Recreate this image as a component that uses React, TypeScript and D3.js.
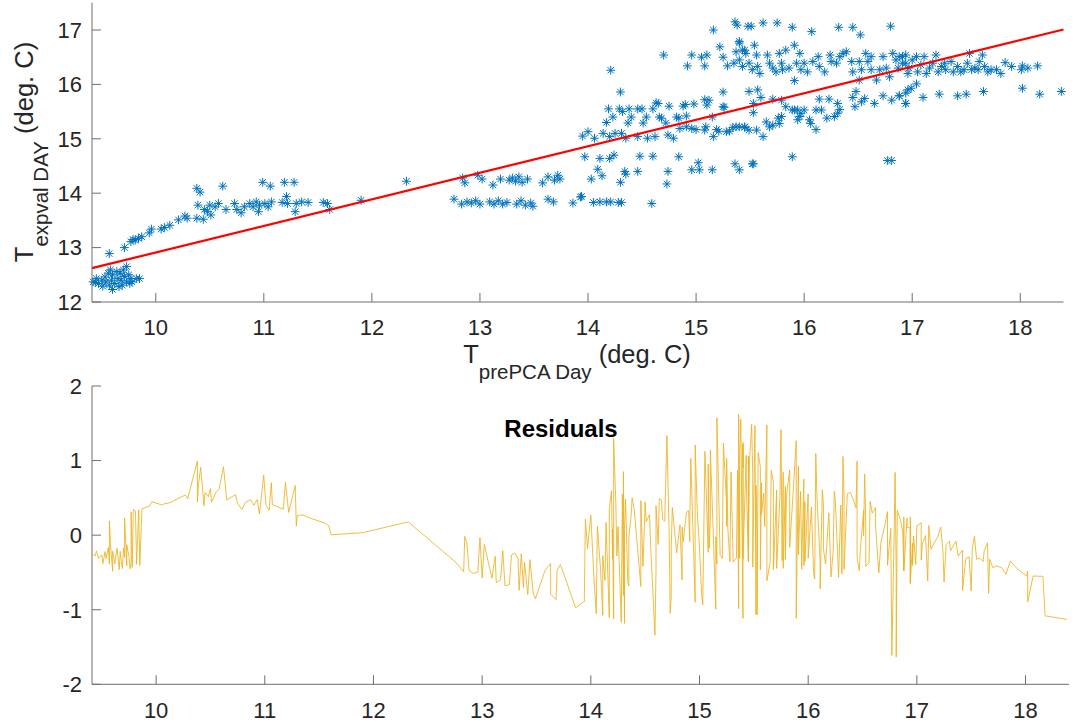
import React from 'react';
import * as d3 from 'd3';

// ---- axis settings ----
const X_LIMITS: [number, number] = [9.41, 18.4];
const TOP_Y_LIMITS: [number, number] = [12, 17.5];
const RES_Y_LIMITS: [number, number] = [-2, 2];
const xTicks = [10, 11, 12, 13, 14, 15, 16, 17, 18];
const topYTicks = [12, 13, 14, 15, 16, 17];
const resYTicks = [-2, -1, 0, 1, 2];

// ---- linear fit ----
const FIT_INTERCEPT = 8.03;
const FIT_SLOPE = 0.488;

// ---- scatter data [T_prePCA, T_expval] ----
const clusterCold: [number, number][] = [
  [9.42, 12.37], [9.44, 12.36], [9.45, 12.43], [9.47, 12.34], [9.5, 12.4], [9.51, 12.29], [9.53, 12.46],
  [9.54, 12.37], [9.56, 12.53], [9.57, 12.31], [9.58, 12.59], [9.59, 12.4], [9.6, 12.23], [9.6, 12.5],
  [9.62, 12.34], [9.64, 12.56], [9.65, 12.43], [9.66, 12.28], [9.67, 12.53], [9.68, 12.4], [9.69, 12.31],
  [9.7, 12.59], [9.71, 12.47], [9.73, 12.37], [9.73, 12.65], [9.75, 12.5], [9.76, 12.34], [9.77, 12.43],
  [9.78, 12.37], [9.82, 12.43], [9.85, 12.43],
];
const clusterRamp: [number, number][] = [
  [9.57, 12.89], [9.71, 13.0], [9.77, 13.11], [9.79, 13.15], [9.81, 13.14], [9.84, 13.17], [9.87, 13.2],
  [9.94, 13.27], [9.96, 13.34], [10.05, 13.34], [10.08, 13.37], [10.13, 13.41], [10.21, 13.51],
  [10.27, 13.58], [10.29, 13.54],
];
const clusterEleven: [number, number][] = [
  [10.38, 14.09], [10.41, 14.02], [10.38, 13.54], [10.39, 13.78], [10.44, 13.52], [10.45, 13.7],
  [10.48, 13.66], [10.5, 13.78], [10.51, 13.6], [10.55, 13.75], [10.58, 13.81], [10.62, 14.13],
  [10.65, 13.7], [10.73, 13.81], [10.75, 13.7], [10.79, 13.64], [10.82, 13.75], [10.87, 13.81],
  [10.9, 13.75], [10.93, 13.84], [10.95, 13.66], [10.96, 13.78], [10.99, 14.2], [11.01, 13.81],
  [11.04, 13.75], [11.06, 14.13], [11.07, 13.84], [11.17, 13.83], [11.19, 14.2], [11.21, 13.94],
  [11.22, 13.81], [11.28, 14.2], [11.29, 13.66], [11.3, 13.81], [11.35, 13.84], [11.41, 13.83],
  [11.55, 13.83], [11.59, 13.81], [11.61, 13.7], [11.9, 13.87], [12.32, 14.22],
];
const clusterMid: [number, number][] = [
  [12.76, 13.89], [12.83, 13.8], [12.84, 14.28], [12.86, 14.19], [12.88, 13.84], [12.92, 13.82],
  [12.96, 13.86], [12.98, 14.33], [13.0, 13.8], [13.02, 14.26], [13.09, 13.84], [13.12, 14.15],
  [13.13, 13.8], [13.17, 13.86], [13.19, 14.26], [13.21, 13.8], [13.25, 13.83], [13.27, 14.24],
  [13.3, 14.28], [13.33, 14.22], [13.34, 13.8], [13.36, 14.3], [13.38, 13.86], [13.39, 14.2],
  [13.42, 13.78], [13.44, 14.26], [13.47, 13.82], [13.49, 13.76], [13.58, 14.19], [13.63, 14.3],
  [13.63, 13.89], [13.68, 13.84], [13.69, 14.24], [13.72, 14.33], [13.74, 14.26], [13.86, 13.82],
  [13.93, 13.93],
];
const clusterRise: [number, number][] = [
  [13.94, 13.94], [14.05, 13.83], [14.11, 13.84], [14.17, 13.84], [14.21, 13.84], [14.28, 13.83],
  [14.31, 13.83], [14.59, 13.81],
  [13.97, 14.67], [14.11, 14.64], [14.2, 14.64], [14.24, 14.7], [14.48, 14.68], [14.6, 14.68],
  [14.84, 14.67], [14.09, 14.44], [14.03, 14.26], [14.13, 14.32], [14.34, 14.4], [14.35, 14.35],
  [14.3, 14.2], [14.46, 14.4], [14.74, 14.4], [14.73, 14.17], [15.02, 14.56], [14.96, 14.43],
  [15.03, 14.43], [15.15, 14.43], [15.36, 14.54], [15.4, 14.43], [15.52, 14.54],
  [13.95, 15.05], [14.0, 15.13], [14.06, 15.01], [14.14, 15.1], [14.2, 15.04], [14.25, 15.1],
  [14.31, 15.1], [14.35, 15.01], [14.46, 15.04], [14.55, 15.01], [14.62, 15.04], [14.74, 15.07],
  [14.79, 15.01], [14.85, 15.19], [14.91, 15.22], [14.96, 15.19], [15.0, 15.17], [15.08, 15.16],
  [15.09, 15.22], [15.16, 15.04], [15.19, 15.17], [15.21, 15.14], [15.28, 15.13], [15.31, 15.14],
  [15.34, 15.21], [15.37, 15.22], [15.45, 15.21],
  [14.17, 15.3], [14.19, 15.55], [14.23, 15.4], [14.29, 15.55], [14.32, 15.5], [14.37, 15.29],
  [14.38, 15.55], [14.4, 15.4], [14.46, 15.55], [14.5, 15.55], [14.51, 15.29], [14.54, 15.4],
  [14.6, 15.55], [14.63, 15.66], [14.65, 15.65], [14.66, 15.4], [14.68, 15.38], [14.72, 15.29],
  [14.75, 15.6], [14.82, 15.4], [14.84, 15.38], [14.88, 15.6], [14.9, 15.63], [14.91, 15.42],
  [14.98, 15.64], [15.08, 15.72], [15.12, 15.71], [15.1, 15.62], [15.15, 15.4], [15.25, 15.86],
  [15.26, 15.58], [15.25, 15.59],
  [14.21, 16.26], [14.3, 15.86], [14.7, 16.54], [15.16, 17.0], [14.92, 16.34], [14.96, 16.54],
  [15.05, 16.5], [15.1, 16.54], [15.08, 16.34], [15.22, 16.69], [15.25, 16.5], [15.29, 16.34],
  [15.36, 17.15], [15.38, 17.09], [15.4, 16.76], [15.37, 16.6], [15.43, 16.63], [15.35, 16.39],
  [15.4, 16.45], [15.43, 16.33], [15.48, 17.07], [15.46, 16.57],
];
const clusterHigh: [number, number][] = [
  [15.51, 17.07], [15.62, 17.13], [15.75, 17.13], [15.89, 17.05], [16.07, 16.97], [16.32, 17.05],
  [16.45, 17.05], [16.52, 16.91], [16.8, 17.07],
  [15.4, 16.79], [15.45, 16.63], [15.54, 16.72], [15.56, 16.54], [15.49, 16.39], [15.52, 16.27],
  [15.57, 16.33], [15.59, 16.2], [15.66, 16.54], [15.68, 16.39], [15.71, 16.3], [15.74, 16.23],
  [15.77, 16.57], [15.79, 16.39], [15.8, 16.27], [15.83, 16.63], [15.86, 16.3], [15.91, 16.72],
  [15.93, 16.39], [15.96, 16.57], [15.97, 16.27], [16.0, 16.39], [16.03, 16.23], [16.08, 16.42],
  [16.13, 16.51], [16.14, 16.33], [16.19, 16.23], [16.24, 16.54], [16.25, 16.42], [16.3, 16.39],
  [16.33, 16.51], [16.36, 16.57], [16.39, 16.6], [16.44, 16.42], [16.45, 16.23], [16.51, 16.42],
  [16.53, 16.27], [16.57, 16.57], [16.59, 16.42], [16.62, 16.51], [16.62, 16.27], [16.67, 16.08],
  [16.7, 16.27], [16.73, 16.51], [16.76, 16.3], [16.79, 16.14], [16.82, 16.57], [16.85, 16.45],
  [16.87, 16.3], [16.91, 16.51], [16.94, 16.39], [16.96, 16.2], [15.91, 16.07], [16.51, 16.08],
  [15.49, 15.87], [15.57, 15.9], [15.6, 15.76], [15.53, 15.65], [15.53, 15.48], [15.71, 15.73],
  [15.79, 15.71], [15.83, 15.59], [15.89, 15.53], [15.94, 15.53], [16.0, 15.53], [16.11, 15.53],
  [16.16, 15.53], [16.14, 15.73], [16.23, 15.73], [16.31, 15.65], [16.33, 15.54], [16.45, 15.76],
  [16.48, 15.87], [16.53, 15.68], [16.56, 15.74], [16.47, 15.59], [16.65, 15.65], [16.73, 15.79],
  [16.81, 15.71], [16.88, 15.79], [16.94, 15.65], [16.96, 15.9],
  [15.4, 15.22], [15.45, 15.22], [15.49, 15.16], [15.56, 15.16], [15.62, 15.04], [15.65, 15.31],
  [15.68, 15.22], [15.71, 15.25], [15.76, 15.38], [15.79, 15.41], [15.77, 15.28], [15.91, 15.53],
  [15.94, 15.35], [15.97, 15.47], [15.96, 15.41], [16.05, 15.35], [16.06, 15.28], [16.11, 15.17],
  [16.21, 15.38], [16.28, 15.41], [16.31, 15.47],
  [15.89, 14.67], [15.53, 14.54], [16.77, 14.6], [16.81, 14.6],
];
const clusterTail: [number, number][] = [
  [16.88, 16.51], [16.91, 16.39], [16.94, 16.54], [16.97, 16.3], [17.0, 16.45], [17.04, 16.51],
  [17.05, 16.23], [17.08, 16.36], [17.11, 16.51], [17.13, 16.2], [17.16, 16.3], [17.19, 16.39],
  [17.22, 16.54], [17.24, 16.23], [17.27, 16.33], [17.3, 16.39], [17.31, 16.27], [17.36, 16.42],
  [17.38, 16.23], [17.42, 16.33], [17.45, 16.23], [17.48, 16.27], [17.51, 16.39], [17.53, 16.57],
  [17.55, 16.27], [17.58, 16.3], [17.61, 16.27], [17.62, 16.42], [17.65, 16.54], [17.67, 16.33],
  [17.7, 16.23], [17.73, 16.27], [17.78, 16.27], [17.82, 16.2], [17.86, 16.4], [17.92, 16.33],
  [18.01, 16.27], [18.02, 16.34], [18.07, 16.3], [18.16, 16.34],
  [16.88, 15.79], [16.94, 15.84], [16.99, 15.93], [17.04, 16.01], [16.94, 15.65], [17.1, 15.76],
  [17.25, 15.82], [17.42, 15.79], [17.5, 15.82], [17.66, 15.87], [18.02, 15.93], [18.18, 15.82],
  [18.38, 15.87],
];

const FONT = '"Liberation Sans", Arial, Helvetica, sans-serif';
const TEXT = '#262626';
const AXIS = '#6e6e6e';
const BLUE = '#0072BD';
const RED = '#FF0000';
const YELLOW = '#EDB120';

const asterisk = (r: number) => {
  const d = r * 0.72;
  return `M${-r},0H${r}M0,${-r}V${r}M${-d},${-d}L${d},${d}M${-d},${d}L${d},${-d}`;
};

export default function App() {
  const points = [
    ...clusterCold, ...clusterRamp, ...clusterEleven, ...clusterMid, ...clusterRise, ...clusterHigh, ...clusterTail,
  ].map(([x, y]) => ({ x, y }));

  // top panel
  const xTop = d3.scaleLinear().domain(X_LIMITS).range([92, 1063.5]);
  const yTop = d3.scaleLinear().domain(TOP_Y_LIMITS).range([302, 2.8]);
  // bottom panel
  const xBot = d3.scaleLinear().domain(X_LIMITS).range([92, 1069]);
  const yBot = d3.scaleLinear().domain(RES_Y_LIMITS).range([684.3, 386]);

  const fit = (x: number) => FIT_INTERCEPT + FIT_SLOPE * x;
  const fitLine = d3.line<number>().x((x) => xTop(x)).y((x) => yTop(fit(x)));

  const residuals = points
    .map((p) => ({ x: p.x, r: p.y - fit(p.x) }))
    .sort((a, b) => a.x - b.x);
  const resLine = d3.line<{ x: number; r: number }>().x((d) => xBot(d.x)).y((d) => yBot(d.r));

  const star = asterisk(4.4);
  const tickLen = 9;
  const tickFont = 22;

  return (
    <svg
      width={1077}
      height={727}
      style={{ position: 'absolute', left: 0, top: 0, background: '#fff' }}
      fontFamily={FONT}
    >
      <rect x={0} y={0} width={1077} height={727} fill="#fff" />

      {/* ---------- top panel ---------- */}
      <g>
        {points.map((p, i) => (
          <path
            key={i}
            d={star}
            transform={`translate(${xTop(p.x)},${yTop(p.y)})`}
            stroke={BLUE}
            strokeWidth={1}
            fill="none"
          />
        ))}
        <path d={fitLine(X_LIMITS) || ''} stroke={RED} strokeWidth={2.2} fill="none" />

        {/* axes */}
        <line x1={xTop.range()[0]} x2={xTop.range()[0]} y1={yTop.range()[1]} y2={yTop.range()[0]} stroke={AXIS} strokeWidth={1} />
        <line x1={xTop.range()[0]} x2={xTop.range()[1]} y1={yTop.range()[0]} y2={yTop.range()[0]} stroke={AXIS} strokeWidth={1} />
        {xTicks.map((t) => (
          <g key={'xt' + t}>
            <line x1={xTop(t)} x2={xTop(t)} y1={yTop.range()[0]} y2={yTop.range()[0] - tickLen} stroke={AXIS} strokeWidth={1} />
            <text x={xTop(t)} y={335} textAnchor="middle" fontSize={tickFont} fill={TEXT}>{t}</text>
          </g>
        ))}
        {topYTicks.map((t) => (
          <g key={'yt' + t}>
            <line x1={xTop.range()[0]} x2={xTop.range()[0] + tickLen} y1={yTop(t)} y2={yTop(t)} stroke={AXIS} strokeWidth={1} />
            <text x={82} y={yTop(t) + 7.8} textAnchor="end" fontSize={tickFont} fill={TEXT}>{t}</text>
          </g>
        ))}
        <text x={577} y={363} textAnchor="middle" fontSize={25.5} fill={TEXT}>
          T<tspan dy={16} fontSize={20.5}>prePCA Day</tspan><tspan dy={-16}> (deg. C)</tspan>
        </text>
        <text transform="translate(33,152) rotate(-90)" textAnchor="middle" fontSize={25.5} fill={TEXT}>
          T<tspan dy={15} fontSize={20.5}>expval DAY</tspan><tspan dy={-15}> (deg. C)</tspan>
        </text>
      </g>

      {/* ---------- bottom panel ---------- */}
      <g>
        <path d={resLine(residuals) || ''} stroke={YELLOW} strokeWidth={1} strokeOpacity={0.85} fill="none" strokeLinejoin="miter" />
        <line x1={xBot.range()[0]} x2={xBot.range()[0]} y1={yBot.range()[1]} y2={yBot.range()[0]} stroke={AXIS} strokeWidth={1} />
        <line x1={xBot.range()[0]} x2={xBot.range()[1]} y1={yBot.range()[0]} y2={yBot.range()[0]} stroke={AXIS} strokeWidth={1} />
        {xTicks.map((t) => (
          <g key={'bxt' + t}>
            <line x1={xBot(t)} x2={xBot(t)} y1={yBot.range()[0]} y2={yBot.range()[0] - tickLen} stroke={AXIS} strokeWidth={1} />
            <text x={xBot(t)} y={718} textAnchor="middle" fontSize={tickFont} fill={TEXT}>{t}</text>
          </g>
        ))}
        {resYTicks.map((t) => (
          <g key={'byt' + t}>
            <line x1={xBot.range()[0]} x2={xBot.range()[0] + tickLen} y1={yBot(t)} y2={yBot(t)} stroke={AXIS} strokeWidth={1} />
            <text x={82} y={yBot(t) + 7.8} textAnchor="end" fontSize={tickFont} fill={TEXT}>{t}</text>
          </g>
        ))}
        <text x={561} y={437} textAnchor="middle" fontSize={24} fontWeight="bold" fill="#000">Residuals</text>
      </g>
    </svg>
  );
}
